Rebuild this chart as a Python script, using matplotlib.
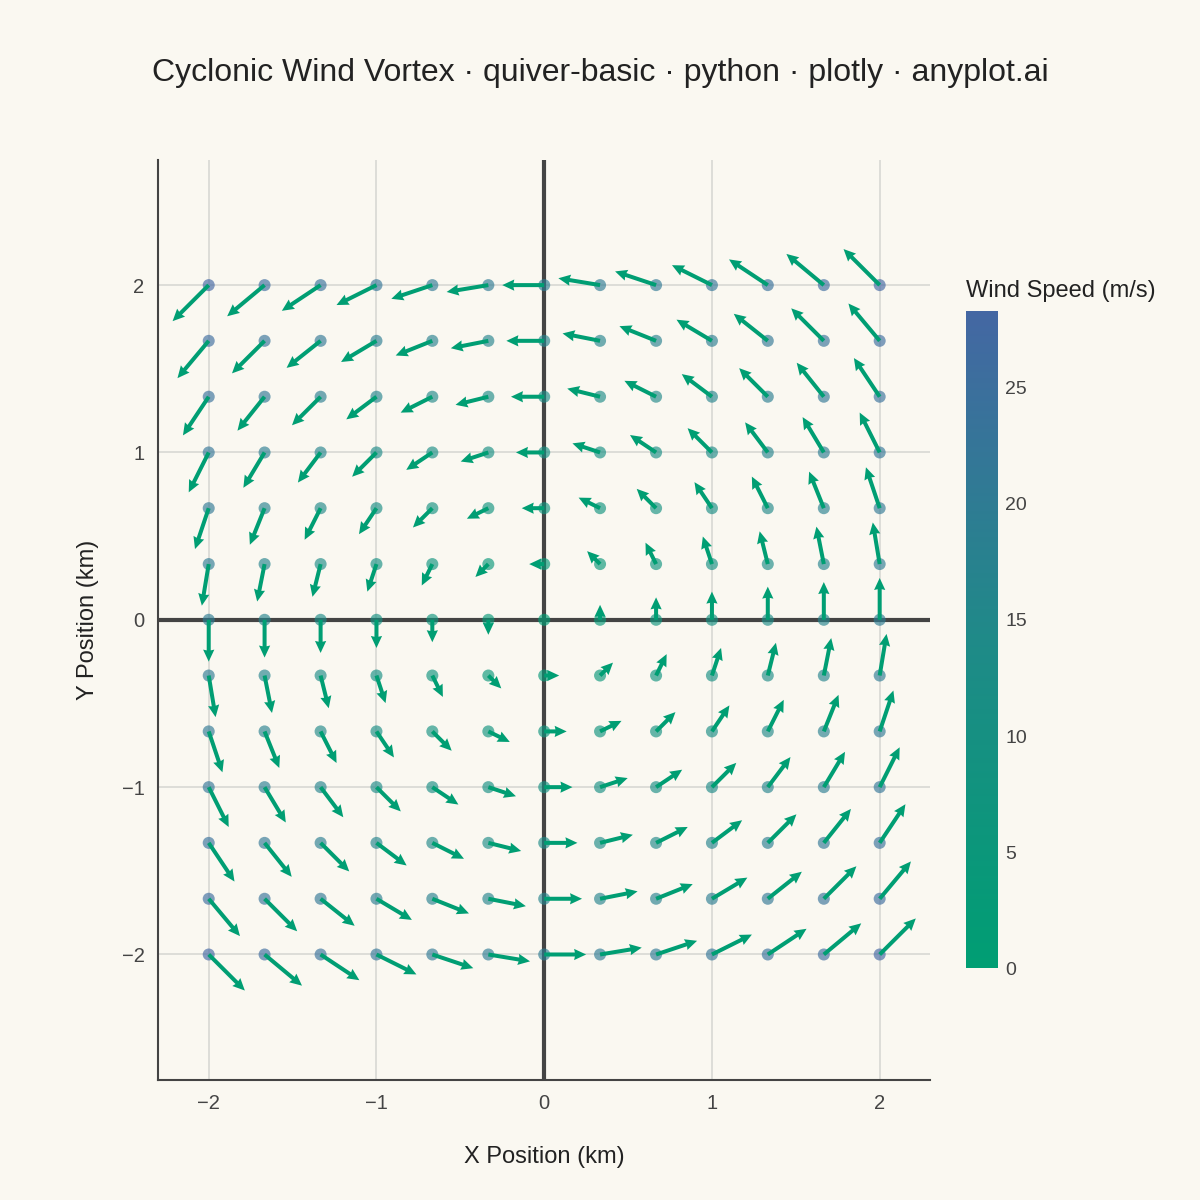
import numpy as np
import matplotlib.pyplot as plt
from matplotlib.colors import LinearSegmentedColormap

plt.rcParams["font.family"] = ["Liberation Sans", "DejaVu Sans"]

# grid positions (km)
x_km = [-2.0, -1.667, -1.333, -1.0, -0.667, -0.333, 0.0, 0.333, 0.667, 1.0, 1.333, 1.667, 2.0]
y_km = [-2.0, -1.667, -1.333, -1.0, -0.667, -0.333, 0.0, 0.333, 0.667, 1.0, 1.333, 1.667, 2.0]

# eastward wind per row (depends on y), northward wind per column (depends on x), m/s
u_by_row = [20.0, 16.7, 13.3, 10.0, 6.7, 3.3, 0.0, -3.3, -6.7, -10.0, -13.3, -16.7, -20.0]
v_by_col = [-20.0, -16.7, -13.3, -10.0, -6.7, -3.3, 0.0, 3.3, 6.7, 10.0, 13.3, 16.7, 20.0]

X, Y = np.meshgrid(x_km, y_km)
U = np.array(u_by_row)[:, None] * np.ones((1, len(x_km)))
V = np.ones((len(y_km), 1)) * np.array(v_by_col)[None, :]
speed = np.sqrt(U ** 2 + V ** 2)

# arrow display length (km) grows sub-linearly with speed, like the reference
safe = np.where(speed > 0, speed, 1)
length = 0.25 * (speed / 20.0) ** 0.57
DU = np.where(speed > 0, U / safe * length, 0)
DV = np.where(speed > 0, V / safe * length, 0)

bg = "#FAF8F1"
cmap = LinearSegmentedColormap.from_list("ws", ["#009E73", "#1F8A88", "#4467A3"])

fig = plt.figure(figsize=(12, 12), dpi=100, facecolor=bg)
ax = fig.add_axes([0.132, 0.1, 0.643, 0.767], facecolor=bg)

ax.axhline(0, color="#444444", lw=3, zorder=1)
ax.axvline(0, color="#444444", lw=3, zorder=1)

sc = ax.scatter(X.ravel(), Y.ravel(), c=speed.ravel(), cmap=cmap, vmin=0, vmax=28.3,
                s=75, alpha=0.65, edgecolors="none", zorder=2)
mask = speed.ravel() > 0
ax.quiver(X.ravel()[mask], Y.ravel()[mask], DU.ravel()[mask], DV.ravel()[mask],
          color="#009E73", angles="xy", scale_units="xy", scale=1,
          width=0.0052, headwidth=2.8, headlength=3.0, headaxislength=2.8, zorder=3)

ax.set_xlim(-2.3, 2.3)
ax.set_ylim(-2.75, 2.75)
ax.set_xticks([-2, -1, 0, 1, 2])
ax.set_yticks([-2, -1, 0, 1, 2])
ax.set_xticklabels(["\u22122", "\u22121", "0", "1", "2"])
ax.set_yticklabels(["\u22122", "\u22121", "0", "1", "2"])
ax.grid(color="#D8D8D4", lw=1.2, zorder=0)
ax.set_axisbelow(True)
for s in ["top", "right"]:
    ax.spines[s].set_visible(False)
for s in ["left", "bottom"]:
    ax.spines[s].set_color("#444444")
    ax.spines[s].set_linewidth(1.5)
ax.tick_params(length=0, labelsize=14.5, colors="#444444", pad=10)
ax.set_xlabel("X Position (km)", fontsize=17, color="#222222", labelpad=24)
ax.set_ylabel("Y Position (km)", fontsize=17, color="#222222", labelpad=16)

fig.suptitle("Cyclonic Wind Vortex · quiver-basic · python · plotly · anyplot.ai",
             fontsize=23, color="#222222", y=0.952)

cax = fig.add_axes([0.805, 0.193, 0.027, 0.548])
cb = fig.colorbar(sc, cax=cax)
cb.solids.set_alpha(1)
cb.outline.set_visible(False)
cb.set_ticks([0, 5, 10, 15, 20, 25])
cb.ax.tick_params(length=0, labelsize=14, colors="#444444", pad=5)
cax.set_title("Wind Speed (m/s)", fontsize=17, color="#222222", pad=10, loc="left")

fig.savefig("out.png", dpi=100, facecolor=bg)
